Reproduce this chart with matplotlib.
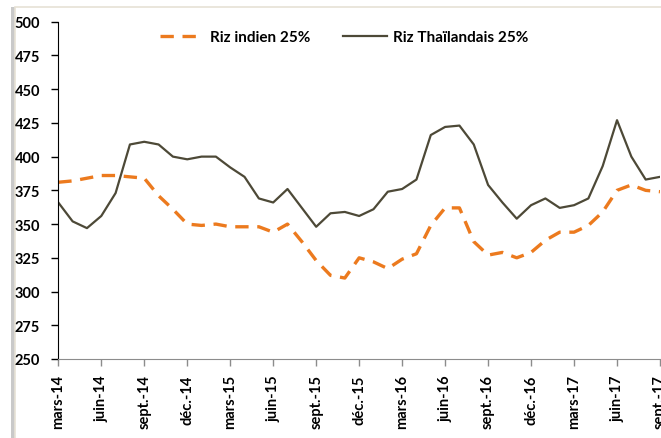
import matplotlib
matplotlib.use("Agg")
import matplotlib.pyplot as plt
from matplotlib.patches import Rectangle

# monthly prices, mars-14 .. sept.-17
months = ["mars", "avr.", "mai", "juin", "juil.", "août", "sept.", "oct.", "nov.", "déc.",
          "janv.", "févr."]
month_labels = []
for k in range(43):
    m = months[k % 12]
    yr = 14 + (k + 2) // 12
    month_labels.append(f"{m}-{yr}")

riz_indien = [381, 382, 384, 386, 386, 385, 384, 371, 361, 350,
              349, 350, 348, 348, 348, 344, 350, 337, 323, 312,
              310, 325, 322, 317, 324, 328, 349, 362, 362, 337,
              327, 329, 325, 329, 338, 344, 344, 349, 359, 375,
              379, 375, 374]
riz_thai = [366, 352, 347, 356, 373, 409, 411, 409, 400, 398,
            400, 400, 392, 385, 369, 366, 376, 362, 348, 358,
            359, 356, 361, 374, 376, 383, 416, 422, 423, 409,
            379, 366, 354, 364, 369, 362, 364, 369, 393, 427,
            400, 383, 385]

plt.rcParams['font.family'] = ['Lato', 'DejaVu Sans']
plt.rcParams['font.weight'] = 'bold'

fig = plt.figure(figsize=(6.61, 4.39), dpi=100)

# chart area frame with left shadow
fig.patches.append(Rectangle((11/661, 0), 5/661, 1 - 8/439, transform=fig.transFigure,
                             facecolor="#c9c9c9", edgecolor="none", zorder=-2))
fig.patches.append(Rectangle((15/661, -0.01), 1, 1 - 8/439 + 0.01, transform=fig.transFigure,
                             facecolor="white", edgecolor="#e6e2d6", linewidth=1.2, zorder=-1))

ax = fig.add_axes([58.3/661, 1 - 360/439, (660 - 58.3)/661, (360 - 22.7)/439])
x = list(range(len(month_labels)))
ax.plot(x, riz_indien, color="#ec7a1e", linewidth=2.4, dashes=(4, 2.6), label="Riz indien 25%")
ax.plot(x, riz_thai, color="#4d4937", linewidth=1.6, label="Riz Thaïlandais 25%")

ax.set_xlim(0, 42)
ax.set_ylim(250, 500)
ax.set_yticks(range(250, 501, 25))
ax.set_xticks(x[::3])
ax.set_xticklabels(month_labels[::3], rotation=90, fontsize=10.5, fontweight="bold")
for lab in ax.get_yticklabels():
    lab.set_fontsize(10.5)
    lab.set_fontweight("bold")
ax.tick_params(axis="y", length=5, width=1, pad=8, color="black")
ax.tick_params(axis="x", length=5, width=1, pad=6, color="#8c8c8c")
ax.spines["top"].set_visible(False)
ax.spines["right"].set_visible(False)
ax.spines["left"].set_color("black")
ax.spines["bottom"].set_color("#8c8c8c")
ax.patch.set_alpha(0)

fig.legend(loc="center", bbox_to_anchor=(344/661, 1 - 38/439), ncol=2, frameon=False,
           handlelength=2.9, columnspacing=2.1, handletextpad=0.4,
           prop={'weight': 'bold', 'size': 11})

fig.savefig("out.png", dpi=100)
plt.close(fig)
